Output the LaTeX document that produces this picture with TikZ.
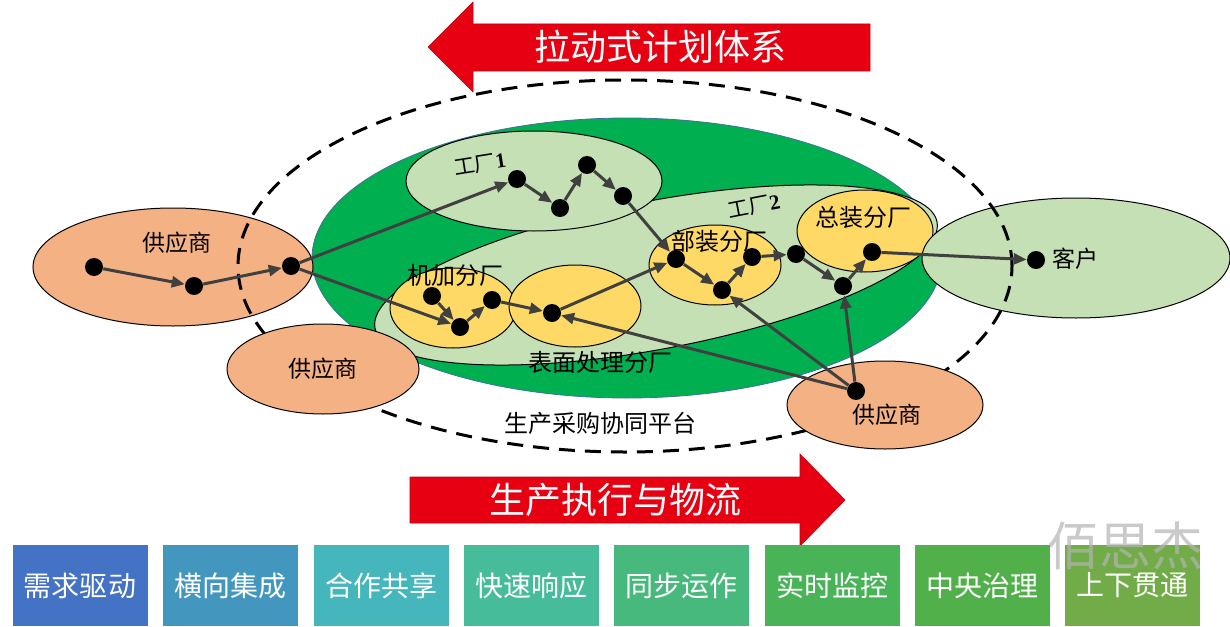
\documentclass[tikz,border=0pt]{standalone}
\usepackage{fontspec}
\newfontfamily\cjk{Noto Sans CJK SC}
\newfontfamily\tnr{Liberation Serif}
\usetikzlibrary{arrows.meta}
\definecolor{orng}{HTML}{F4B183}
\definecolor{lgrn}{HTML}{C5E0B4}
\definecolor{ylw}{HTML}{FFD966}
\definecolor{bgrn}{HTML}{00B050}
\definecolor{rred}{HTML}{E60012}
\definecolor{agray}{HTML}{404040}
\definecolor{bedge}{HTML}{41719C}
\definecolor{wmark}{HTML}{B4B4B4}
\definecolor{bxA}{HTML}{4472C4}
\definecolor{bxB}{HTML}{4397BF}
\definecolor{bxC}{HTML}{45B7BC}
\definecolor{bxD}{HTML}{46BC9B}
\definecolor{bxE}{HTML}{47B97C}
\definecolor{bxF}{HTML}{48B457}
\definecolor{bxG}{HTML}{52B04A}
\definecolor{bxH}{HTML}{72AC48}
\begin{document}
\begin{tikzpicture}[x=0.5pt,y=-0.5pt,
  dot/.style={circle,fill=black,inner sep=0pt,minimum size=9pt},
  arr/.style={draw=agray,line width=1.5pt,-{Triangle[length=6.5pt,width=5.5pt]}},
  ell/.style={draw=black,line width=0.5pt},
  lbl/.style={inner sep=0pt,font=\cjk\fontsize{11.5pt}{13pt}\selectfont},
  sub/.style={inner sep=0pt,font=\cjk\fontsize{12pt}{14pt}\selectfont},
  big/.style={inner sep=0pt,text=white,font=\cjk\fontsize{18pt}{20pt}\selectfont},
  bx/.style={inner sep=0pt,minimum width=67.5pt,minimum height=40.5pt,text=white,font=\cjk\fontsize{14pt}{16pt}\selectfont},
  redarrow/.style={fill=rred,draw=rred!80!black,line width=0.3pt}
]
\useasboundingbox (0,0) rectangle (1230,626);

% big green platform ellipse
\filldraw[fill=bgrn,draw=bedge,line width=0.4pt] (627,258) ellipse [x radius=157.5pt,y radius=70pt];
% factory 2
\filldraw[ell,fill=lgrn,shift={(656,275)},rotate=10.7] (0,0) ellipse [x radius=143pt,y radius=37pt];
% factory 1
\filldraw[ell,fill=lgrn] (534,181) ellipse [x radius=64pt,y radius=25pt];
% sub-factories
\filldraw[ell,fill=ylw] (453,308) ellipse [x radius=31.5pt,y radius=20pt];
\filldraw[ell,fill=ylw] (575,306) ellipse [x radius=33pt,y radius=20.5pt];
\filldraw[ell,fill=ylw] (715,265) ellipse [x radius=33pt,y radius=20pt];
\filldraw[ell,fill=ylw] (865,231) ellipse [x radius=34pt,y radius=20.5pt];
% customer
\filldraw[ell,fill=lgrn] (1076,258) ellipse [x radius=77pt,y radius=30pt];
% left supplier
\filldraw[ell,fill=orng] (173,267) ellipse [x radius=70pt,y radius=29.5pt];
% dashed platform boundary
\draw[black,line width=1.5pt,dash pattern=on 8pt off 5pt] (625,266) ellipse [x radius=193.5pt,y radius=93pt];
% bottom suppliers
\filldraw[ell,fill=orng] (323,369) ellipse [x radius=48pt,y radius=22.5pt];
\filldraw[ell,fill=orng] (885,405) ellipse [x radius=49pt,y radius=22pt];

% red arrows
\path[redarrow] (428,47) -- (473,2) -- (473,24) -- (870,24) -- (870,71) -- (473,71) -- (473,92) -- cycle;
\node[big] (pull) at (660,47) {拉动式计划体系};
\path[redarrow] (410,477) -- (800,477) -- (800,454) -- (845,500) -- (800,546) -- (800,523) -- (410,523) -- cycle;
\node[big] (exec) at (615,500) {生产执行与物流};

% labels
\node[lbl] (supL) at (177,243) {供应商};
\node[lbl] (supB) at (323,369) {供应商};
\node[lbl] (supR) at (887,415) {供应商};
\node[lbl] (cust) at (1075,259) {客户};
\node[inner sep=0pt,rotate=9,font=\cjk\fontsize{10.5pt}{12pt}\selectfont] (fac1) at (480,164) {工厂{\tnr\bfseries 1}};
\node[inner sep=0pt,rotate=11,font=\cjk\fontsize{10.5pt}{12pt}\selectfont] (fac2) at (754,206) {工厂{\tnr\bfseries 2}};
\node[sub] (jj) at (455,275) {机加分厂};
\node[sub] (bm) at (600,362) {表面处理分厂};
\node[sub] (bz) at (719,241) {部装分厂};
\node[sub] (zz) at (863,217) {总装分厂};
\node[sub] (plat) at (600,423) {生产采购协同平台};

% dots
\node[dot] (d1) at (94,267) {};
\node[dot] (d2) at (194,286) {};
\node[dot] (d3) at (291,266) {};
\node[dot] (f1) at (517,179) {};
\node[dot] (f2) at (560,208) {};
\node[dot] (f3) at (587,165) {};
\node[dot] (f4) at (623,196) {};
\node[dot] (m1) at (432,296) {};
\node[dot] (m2) at (460,327) {};
\node[dot] (m3) at (492,300) {};
\node[dot] (s1) at (552,313) {};
\node[dot] (b1) at (676,259) {};
\node[dot] (b2) at (722,290) {};
\node[dot] (b3) at (752,257) {};
\node[dot] (p1) at (796,254) {};
\node[dot] (z1) at (843,286) {};
\node[dot] (z2) at (872,252) {};
\node[dot] (c1) at (1036,260) {};
\node[dot] (r1) at (856,391) {};

% connectors
\draw[arr] (d1) -- (d2);
\draw[arr] (d2) -- (d3);
\draw[arr] (d3) -- (f1);
\draw[arr] (d3) -- (m2);
\draw[arr] (f1) -- (f2);
\draw[arr] (f2) -- (f3);
\draw[arr] (f3) -- (f4);
\draw[arr] (f4) -- (b1);
\draw[arr] (m1) -- (m2);
\draw[arr] (m2) -- (m3);
\draw[arr] (m3) -- (s1);
\draw[arr] (s1) -- (b1);
\draw[arr] (r1) -- (s1);
\draw[arr] (b1) -- (b2);
\draw[arr] (b2) -- (b3);
\draw[arr] (b3) -- (p1);
\draw[arr] (p1) -- (z1);
\draw[arr] (z1) -- (z2);
\draw[arr] (r1) -- (b2);
\draw[arr] (r1) -- (z1);
\draw[arr] (z2) -- (c1);

% bottom boxes
\node[bx,fill=bxA] (k1) at (80,585.5) {需求驱动};
\node[bx,fill=bxB] (k2) at (230.5,585.5) {横向集成};
\node[bx,fill=bxC] (k3) at (381,585.5) {合作共享};
\node[bx,fill=bxD] (k4) at (531.5,585.5) {快速响应};
\node[bx,fill=bxE] (k5) at (681.5,585.5) {同步运作};
\node[bx,fill=bxF] (k6) at (832,585.5) {实时监控};
\node[bx,fill=bxG] (k7) at (982,585.5) {中央治理};
\node[bx,fill=bxH] (k8) at (1132.5,585.5) {上下贯通};

% watermark
\node[inner sep=0pt,text=wmark,opacity=0.7,font=\cjk\fontsize{26pt}{28pt}\selectfont] (wm) at (1125,546) {佰思杰};
\end{tikzpicture}
\end{document}
